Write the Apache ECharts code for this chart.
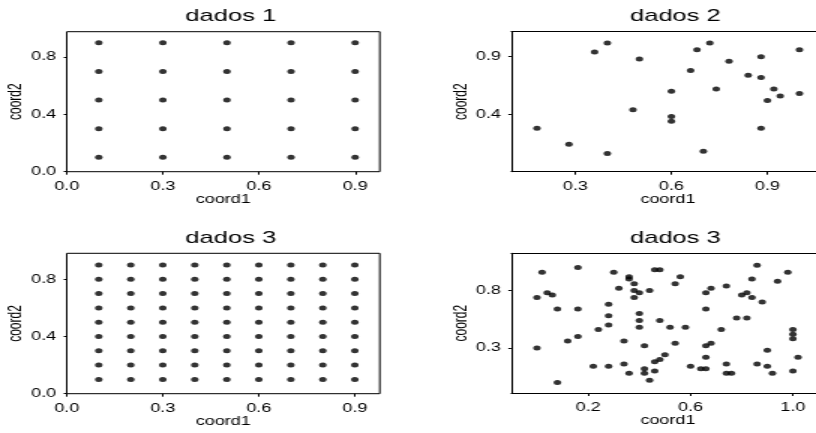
<!DOCTYPE html>
<html>
<head>
<meta charset="utf-8">
<script src="https://cdn.jsdelivr.net/npm/echarts@6/dist/echarts.min.js"></script>
<style>
  html, body { margin: 0; padding: 0; background: #fff; overflow: hidden; }
  #wrap { width: 816px; height: 433px; overflow: hidden; }
  /* the drawing is laid out on a 560px-wide page and widened 1.5x; the right edge is cut at 816px */
  #chart { width: 560px; height: 433px; transform: scaleX(1.5); transform-origin: 0 0; }
</style>
</head>
<body>
<div id="wrap"><div id="chart"></div></div>
<script>
// dados 1: 5 x 5 regular grid
const levels1 = [0.1, 0.3, 0.5, 0.7, 0.9];
// dados 3 (grid): 9 x 9 regular grid
const levels3 = [0.1, 0.2, 0.3, 0.4, 0.5, 0.6, 0.7, 0.8, 0.9];

// dados 2: 25 scattered sites
const coord1_d2 = [0.18,0.28,0.40,0.36,0.40,0.50,0.48,0.60,0.60,0.60,0.66,0.68,0.72,0.70,0.74,0.78,0.84,0.88,0.88,0.88,0.92,0.90,0.94,1.00,1.00];
const coord2_d2 = [0.28,0.14,0.06,0.94,1.02,0.88,0.44,0.60,0.38,0.34,0.78,0.96,1.02,0.08,0.62,0.86,0.74,0.90,0.72,0.28,0.62,0.52,0.56,0.96,0.58];

// dados 3 (random): 81 scattered sites
const coord1_d3 = [0.02,0.16,0.00,0.04,0.06,0.08,0.16,0.00,0.12,0.16,0.08,0.22,0.24,0.28,0.28,0.28,0.28,0.30,0.32,0.34,
                   0.34,0.36,0.36,0.36,0.38,0.38,0.38,0.40,0.40,0.40,0.40,0.42,0.42,0.42,0.44,0.44,0.46,0.48,0.46,0.46,
                   0.48,0.50,0.48,0.52,0.54,0.56,0.54,0.58,0.60,0.64,0.66,0.66,0.66,0.66,0.66,0.68,0.68,0.72,0.74,0.74,
                   0.74,0.76,0.78,0.80,0.82,0.82,0.84,0.84,0.86,0.86,0.88,0.90,0.90,0.92,0.94,0.98,1.00,1.00,1.00,1.00,
                   1.02];
const coord2_d3 = [0.96,1.00,0.74,0.78,0.76,0.64,0.64,0.30,0.36,0.40,0.00,0.14,0.46,0.68,0.58,0.50,0.14,0.96,0.82,0.36,
                   0.16,0.92,0.90,0.08,0.86,0.80,0.74,0.78,0.60,0.54,0.48,0.32,0.12,0.08,0.80,0.02,0.98,0.98,0.18,0.10,
                   0.20,0.24,0.54,0.48,0.86,0.92,0.34,0.48,0.14,0.12,0.12,0.78,0.64,0.32,0.22,0.82,0.34,0.46,0.84,0.16,
                   0.08,0.08,0.56,0.76,0.78,0.56,0.90,0.74,1.02,0.16,0.70,0.28,0.14,0.08,0.88,0.96,0.46,0.42,0.38,0.10,
                   0.22];

// tick labels
const ticksGridX = [0.0, 0.3, 0.6, 0.9];
const ticksGridY = [0.0, 0.4, 0.8];
const ticksD2X = [0.3, 0.6, 0.9];
const ticksD2Y = [0.4, 0.9];
const ticksD3X = [0.2, 0.6, 1.0];
const ticksD3Y = [0.3, 0.8];

const titles = ['dados 1', 'dados 2', 'dados 3', 'dados 3'];

function gridPairs(levels) {
  const out = [];
  levels.forEach(function (x) { levels.forEach(function (y) { out.push([x, y]); }); });
  return out;
}
function zipPairs(xs, ys) { return xs.map(function (x, i) { return [x, ys[i]]; }); }

const FONT = 'Liberation Sans, Arial, sans-serif';
const fmt = function (v) { return Number(v).toFixed(1); };
const LINE = { show: true, onZero: false, lineStyle: { color: '#000', width: 1 } };
const NO_LINE = { show: false, onZero: false };

function xAxis(idx, min, max, ticks, framed) {
  return {
    type: 'value', gridIndex: idx, min: min, max: max, position: 'bottom',
    axisLine: framed ? NO_LINE : LINE, splitLine: { show: false },
    axisTick: { show: true, inside: false, length: 3, customValues: ticks, lineStyle: { color: '#000', width: 1 } },
    axisLabel: { customValues: ticks, formatter: fmt, margin: 9, color: '#000', fontFamily: FONT, fontSize: 12 },
    name: 'coord1', nameLocation: 'middle', nameGap: 22,
    nameTextStyle: { color: '#000', fontFamily: FONT, fontSize: 12 }
  };
}
// bare top edge for the panels whose right side runs off the page
function xTopEdge(idx, min, max) {
  return {
    type: 'value', gridIndex: idx, min: min, max: max, position: 'top',
    axisLine: LINE, splitLine: { show: false }, axisTick: { show: false }, axisLabel: { show: false }
  };
}
function yAxis(idx, min, max, ticks, framed) {
  return {
    type: 'value', gridIndex: idx, min: min, max: max, position: 'left',
    axisLine: framed ? NO_LINE : LINE, splitLine: { show: false },
    axisTick: { show: true, inside: false, length: 2, customValues: ticks, lineStyle: { color: '#000', width: 1 } },
    axisLabel: { customValues: ticks, formatter: fmt, margin: 7, color: '#000', fontFamily: FONT, fontSize: 12 },
    name: 'coord2', nameLocation: 'middle', nameGap: 24,
    nameTextStyle: { color: '#000', fontFamily: FONT, fontSize: 12 }
  };
}

const boxes = [
  { left: 44.5, top: 31.7, width: 208.7, height: 140, framed: true },
  { left: 340.9, top: 31.7, width: 208.7, height: 140, framed: false },
  { left: 44.5, top: 253.3, width: 208.7, height: 140.4, framed: true },
  { left: 340.9, top: 253.3, width: 208.7, height: 139.7, framed: false }
];

const grids = boxes.map(function (b) {
  return { left: b.left, top: b.top, width: b.width, height: b.height,
           show: b.framed, borderColor: '#000', borderWidth: 1, backgroundColor: 'transparent',
           containLabel: false, outerBoundsMode: 'none' };
});

const titleTops = [3, 3, 225, 225];
const title = boxes.map(function (b, i) {
  return { text: titles[i], left: b.left + b.width / 2, top: titleTops[i], textAlign: 'center',
           textStyle: { fontFamily: FONT, fontSize: 17, fontWeight: 'normal', color: '#000' } };
});

const pointData = [
  gridPairs(levels1),
  zipPairs(coord1_d2, coord2_d2),
  gridPairs(levels3),
  zipPairs(coord1_d3, coord2_d3)
];

const series = pointData.map(function (d, i) {
  return { type: 'scatter', xAxisIndex: i, yAxisIndex: i, data: d,
           symbol: 'circle', symbolSize: 5, itemStyle: { color: '#000' },
           emphasis: { disabled: true }, silent: true, clip: false };
});

const chart = echarts.init(document.getElementById('chart'), null, { renderer: 'canvas' });
chart.setOption({
  animation: false,
  backgroundColor: '#fff',
  title: title,
  grid: grids,
  xAxis: [
    xAxis(0, 0, 0.977, ticksGridX, true),
    xAxis(1, 0.1, 1.078, ticksD2X, false),
    xAxis(2, 0, 0.978, ticksGridX, true),
    xAxis(3, -0.1, 1.123, ticksD3X, false),
    xTopEdge(1, 0.1, 1.078),
    xTopEdge(3, -0.1, 1.123)
  ],
  yAxis: [
    yAxis(0, 0, 0.977, ticksGridY, true),
    yAxis(1, -0.098, 1.117, ticksD2Y, false),
    yAxis(2, 0, 0.982, ticksGridY, true),
    yAxis(3, -0.092, 1.124, ticksD3Y, false)
  ],
  series: series
});
</script>
</body>
</html>
